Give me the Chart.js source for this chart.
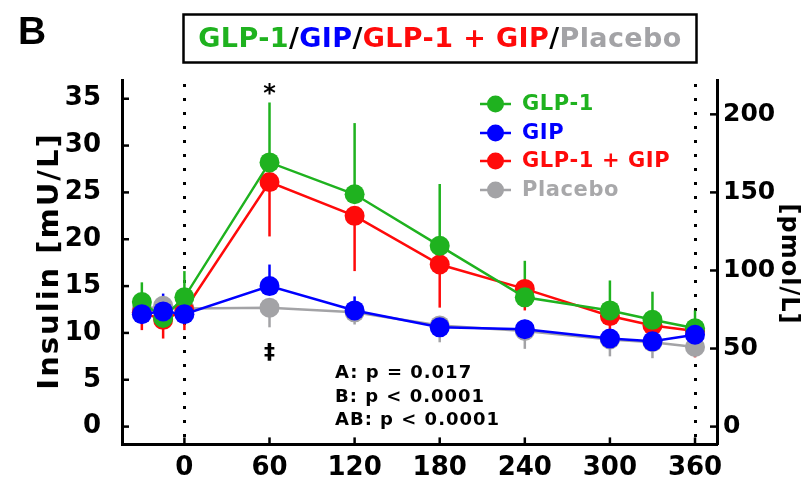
<!DOCTYPE html>
<html>
<head>
<meta charset="utf-8">
<script src="https://cdn.jsdelivr.net/npm/chart.js@4.4.1/dist/chart.umd.min.js"></script>
<style>
  html, body { margin: 0; padding: 0; background: #fff; }
  #wrap { width: 806px; height: 481px; position: relative; }
</style>
</head>
<body>
<div id="wrap"><canvas id="c"></canvas></div>
<script>
// ---- data ----
const times = [-30, -15, 0, 60, 120, 180, 240, 300, 330, 360];
const xTicks = [0, 60, 120, 180, 240, 300, 360];
const yTicks = [0, 5, 10, 15, 20, 25, 30, 35];
const yRightTicks = [0, 50, 100, 150, 200];
const markerLines = [0, 360];

const glp1      = [13.3, 11.6, 13.8, 28.2, 24.8, 19.3, 13.8, 12.4, 11.4, 10.5];
const glp1Err   = [2.1, 1.5, 2.8, 6.4, 7.6, 6.6, 3.9, 3.2, 3.0, 1.9];
const gip       = [12.0, 12.3, 12.0, 15.0, 12.4, 10.6, 10.4, 9.4, 9.1, 9.8];
const gipErr    = [1.8, 1.9, 1.9, 2.3, 1.5, 1.0, 1.0, 1.0, 1.0, 1.7];
const combo     = [12.2, 11.4, 12.4, 26.1, 22.5, 17.3, 14.7, 11.8, 10.8, 10.2];
const comboErr  = [1.9, 2.0, 2.1, 5.8, 5.9, 4.6, 2.3, 2.0, 2.0, 2.8];
const placebo   = [12.5, 12.9, 12.6, 12.7, 12.2, 10.8, 10.2, 9.3, 9.0, 8.5];
const placeboErr= [1.5, 1.4, 1.4, 2.1, 1.3, 1.8, 1.9, 1.8, 1.7, 1.1];

const labels = ['GLP-1', 'GIP', 'GLP-1 + GIP', 'Placebo'];
const pValues = ['A: p = 0.017', 'B: p < 0.0001', 'AB: p < 0.0001'];
const PMOL_PER_MU = 6;

// ---- styles ----
const GREEN = '#1fb21f', BLUE = '#0000ff', RED = '#ff0a0a', GRAY = '#a3a3a6';
const FONT = '"DejaVu Sans", Verdana, sans-serif';

const series = [
  { label: labels[0], values: glp1, err: glp1Err, dir: 1, color: GREEN },
  { label: labels[1], values: gip, err: gipErr, dir: 1, color: BLUE },
  { label: labels[2], values: combo, err: comboErr, dir: -1, color: RED },
  { label: labels[3], values: placebo, err: placeboErr, dir: -1, color: GRAY },
];
// drawing order: first dataset drawn on top
const drawOrder = [1, 0, 2, 3];

const datasets = drawOrder.map(i => {
  const s = series[i];
  return {
    label: s.label,
    data: times.map((t, k) => ({ x: t, y: s.values[k] })),
    borderColor: s.color,
    backgroundColor: s.color,
    pointBackgroundColor: s.color,
    pointBorderColor: s.color,
    pointRadius: 10,
    pointBorderWidth: 0,
    borderWidth: 2.5,
    tension: 0,
    yAxisID: 'y',
  };
});

function setLS(ctx, v) { try { ctx.letterSpacing = v; } catch (e) {} }

const overlay = {
  id: 'overlay',
  beforeDatasetsDraw(chart) {
    const { ctx, chartArea: a, scales: { x, y } } = chart;
    ctx.save();
    ctx.strokeStyle = '#000';
    ctx.lineWidth = 3;
    ctx.setLineDash([3, 11]);
    markerLines.forEach(v => {
      const px = Math.round(x.getPixelForValue(v)) + 0.5;
      ctx.beginPath(); ctx.moveTo(px, a.top + 4); ctx.lineTo(px, a.bottom); ctx.stroke();
    });
    ctx.setLineDash([]);
    series.slice().reverse().forEach(s => {
      ctx.strokeStyle = s.color;
      ctx.lineWidth = 2.5;
      times.forEach((t, k) => {
        const px = x.getPixelForValue(t);
        const v = s.values[k];
        ctx.beginPath();
        ctx.moveTo(px, y.getPixelForValue(v));
        ctx.lineTo(px, y.getPixelForValue(v + s.dir * s.err[k]));
        ctx.stroke();
      });
    });
    ctx.restore();
  },
  afterDraw(chart) {
    const { ctx, chartArea: a, scales: { x, y, y2 } } = chart;
    ctx.save();
    // inward tick marks
    ctx.strokeStyle = '#000';
    ctx.lineWidth = 2.5;
    const TL = 7;
    yTicks.forEach(v => {
      const py = y.getPixelForValue(v);
      ctx.beginPath(); ctx.moveTo(a.left, py); ctx.lineTo(a.left + TL, py); ctx.stroke();
    });
    yRightTicks.forEach(v => {
      const py = y2.getPixelForValue(v);
      ctx.beginPath(); ctx.moveTo(a.right - TL, py); ctx.lineTo(a.right, py); ctx.stroke();
    });
    xTicks.forEach(v => {
      const px = x.getPixelForValue(v);
      ctx.beginPath(); ctx.moveTo(px, a.bottom); ctx.lineTo(px, a.bottom - TL); ctx.stroke();
    });

    // panel letter
    ctx.fillStyle = '#000';
    ctx.font = 'bold 39px "Liberation Sans", Arial, sans-serif';
    ctx.textAlign = 'left'; ctx.textBaseline = 'alphabetic';
    ctx.fillText('B', 18, 44);

    // title box
    ctx.lineWidth = 2.5;
    ctx.strokeRect(183.5, 14.5, 513, 48);
    const segs = [[labels[0], GREEN], ['/', '#000'], [labels[1], BLUE], ['/', '#000'],
                  [labels[2], RED], ['/', '#000'], [labels[3], GRAY]];
    ctx.font = 'bold 27px ' + FONT;
    setLS(ctx, '0.4px');
    ctx.textBaseline = 'middle';
    let total = 0;
    segs.forEach(s => total += ctx.measureText(s[0]).width);
    let cx = 440 - total / 2;
    segs.forEach(s => { ctx.fillStyle = s[1]; ctx.fillText(s[0], cx, 40); cx += ctx.measureText(s[0]).width; });

    // legend
    const rows = [104, 133, 161, 190];
    ctx.font = 'bold 21px ' + FONT;
    setLS(ctx, '0.6px');
    series.forEach((s, i) => {
      const ry = rows[i];
      ctx.strokeStyle = s.color; ctx.fillStyle = s.color; ctx.lineWidth = 2.5;
      ctx.beginPath(); ctx.moveTo(480, ry); ctx.lineTo(511, ry); ctx.stroke();
      ctx.beginPath(); ctx.arc(495.5, ry, 8.5, 0, Math.PI * 2); ctx.fill();
      ctx.fillStyle = (i === 3) ? '#a8a8aa' : s.color;
      ctx.textAlign = 'left'; ctx.textBaseline = 'middle';
      ctx.fillText(s.label, 522, ry + 1);
    });

    // significance marks
    ctx.fillStyle = '#000';
    setLS(ctx, '0px');
    ctx.textAlign = 'center';
    ctx.textBaseline = 'alphabetic';
    ctx.font = 'bold 24px ' + FONT;
    ctx.fillText('*', x.getPixelForValue(60), 101);
    ctx.font = 'bold 22px ' + FONT;
    ctx.fillText('\u2021', x.getPixelForValue(60), 359);

    // p-values
    ctx.font = 'bold 18px ' + FONT;
    setLS(ctx, '1px');
    ctx.textAlign = 'left'; ctx.textBaseline = 'middle';
    const pys = [373, 397, 420];
    pValues.forEach((t, i) => ctx.fillText(t, 335, pys[i]));

    // axis titles
    ctx.font = 'bold 29px ' + FONT;
    setLS(ctx, '2px');
    ctx.textAlign = 'center'; ctx.textBaseline = 'alphabetic';
    ctx.save();
    ctx.translate(58, 261); ctx.rotate(-Math.PI / 2);
    ctx.fillText('Insulin [mU/L]', 0, 0);
    ctx.restore();
    ctx.font = 'bold 24px ' + FONT;
    setLS(ctx, '1px');
    ctx.save();
    ctx.translate(782, 264); ctx.rotate(Math.PI / 2);
    ctx.fillText('[pmol/L]', 0, 0);
    ctx.restore();
    setLS(ctx, '0px');
    ctx.restore();
  }
};

const Y_MIN = -1.9, Y_MAX = 37;
const tickFont = { family: FONT, size: 26, weight: 'bold' };
const rightTickFont = { family: FONT, size: 25, weight: 'bold' };

new Chart(document.getElementById('c'), {
  type: 'line',
  data: { datasets },
  options: {
    responsive: true,
    maintainAspectRatio: false,
    animation: false,
    events: [],
    layout: { padding: { top: 80, left: 0, right: 0, bottom: 0 } },
    plugins: { legend: { display: false }, tooltip: { enabled: false }, title: { display: false } },
    scales: {
      x: {
        type: 'linear', position: 'bottom', min: -44, max: 375.5,
        afterBuildTicks: s => { s.ticks = xTicks.map(v => ({ value: v })); },
        afterFit: s => { s.height = 35; },
        ticks: { font: tickFont, color: '#000', padding: 8, maxRotation: 0, autoSkip: false },
        grid: { display: false, drawTicks: false },
        border: { display: true, color: '#000', width: 3 },
      },
      y: {
        type: 'linear', position: 'left', min: Y_MIN, max: Y_MAX,
        afterBuildTicks: s => { s.ticks = yTicks.map(v => ({ value: v })); },
        afterFit: s => { s.width = 122; },
        ticks: { font: tickFont, color: '#000', padding: 21 },
        grid: { display: false, drawTicks: false },
        border: { display: true, color: '#000', width: 3 },
      },
      y2: {
        type: 'linear', position: 'right', min: Y_MIN * PMOL_PER_MU, max: Y_MAX * PMOL_PER_MU,
        afterBuildTicks: s => { s.ticks = yRightTicks.map(v => ({ value: v })); },
        afterFit: s => { s.width = 89; },
        ticks: { font: rightTickFont, color: '#000', padding: 6 },
        grid: { display: false, drawTicks: false },
        border: { display: true, color: '#000', width: 3 },
      },
    },
  },
  plugins: [overlay],
});
</script>
</body>
</html>
